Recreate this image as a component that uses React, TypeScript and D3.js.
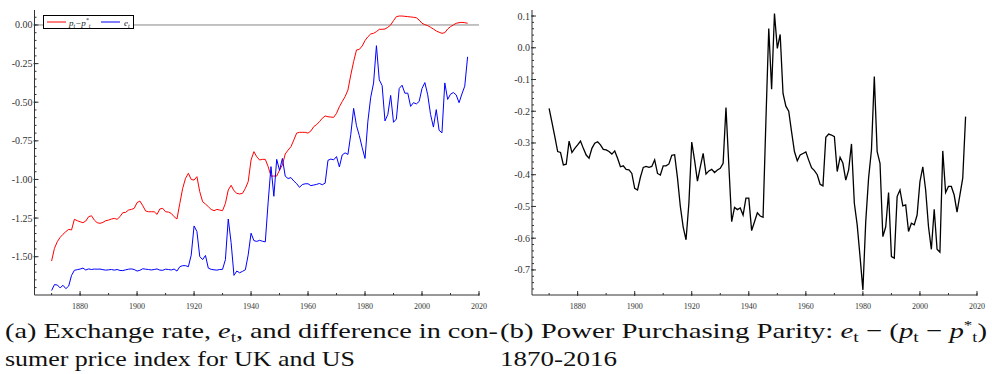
import React from 'react';
import * as d3 from 'd3';

// annual observations 1870-2016
const years = d3.range(1870, 2017);

// p_t - p*_t (red, panel a)
const priceDiff = [
  -1.528, -1.446, -1.403, -1.375, -1.355, -1.338, -1.323, -1.327, -1.258, -1.267,
  -1.274, -1.28, -1.269, -1.241, -1.235, -1.263, -1.28, -1.284, -1.278, -1.267,
  -1.263, -1.256, -1.252, -1.258, -1.241, -1.215, -1.213, -1.198, -1.194, -1.187,
  -1.15, -1.14, -1.17, -1.204, -1.209, -1.209, -1.209, -1.226, -1.191, -1.187,
  -1.209, -1.211, -1.22, -1.241, -1.256, -1.155, -1.058, -0.993, -0.96, -1.0,
  -1.004, -0.982, -1.079, -1.144, -1.159, -1.176, -1.194, -1.202, -1.194, -1.198,
  -1.202, -1.155, -1.068, -1.038, -1.073, -1.09, -1.094, -1.09, -1.058, -1.014,
  -0.874, -0.82, -0.853, -0.874, -0.87, -0.87, -0.917, -0.978, -0.978, -0.978,
  -0.939, -0.906, -0.835, -0.81, -0.788, -0.745, -0.7, -0.695, -0.695, -0.695,
  -0.7, -0.686, -0.658, -0.645, -0.626, -0.604, -0.589, -0.594, -0.596, -0.598,
  -0.572, -0.529, -0.496, -0.464, -0.421, -0.324, -0.237, -0.162, -0.158, -0.136,
  -0.101, -0.076, -0.058, -0.054, -0.043, -0.028, -0.028, -0.026, -0.015, 0.0,
  0.028, 0.054, 0.058, 0.058, 0.056, 0.054, 0.052, 0.05, 0.047, 0.032,
  0.011, 0.002, -0.004, -0.015, -0.026, -0.039, -0.047, -0.054, -0.05, -0.026,
  -0.011, 0.0, 0.011, 0.015, 0.017, 0.015, 0.011,
];

// e_t (blue, panel a)
const exchangeRate = [
  -1.719, -1.681, -1.683, -1.702, -1.685, -1.707, -1.69, -1.621, -1.588, -1.584,
  -1.58, -1.574, -1.586, -1.579, -1.583, -1.58, -1.581, -1.58, -1.584, -1.587,
  -1.585, -1.583, -1.587, -1.583, -1.589, -1.59, -1.585, -1.581, -1.579, -1.583,
  -1.593, -1.588, -1.578, -1.581, -1.583, -1.586, -1.583, -1.579, -1.587, -1.588,
  -1.581, -1.583, -1.586, -1.58, -1.593, -1.565, -1.558, -1.558, -1.565, -1.49,
  -1.301, -1.337, -1.499, -1.519, -1.492, -1.574, -1.582, -1.585, -1.587, -1.583,
  -1.582, -1.519, -1.256, -1.408, -1.621, -1.593, -1.604, -1.595, -1.585, -1.488,
  -1.348, -1.396, -1.401, -1.394, -1.4, -1.404, -1.147, -0.917, -1.109, -0.87,
  -0.941, -0.864, -0.979, -0.994, -0.988, -1.01, -1.027, -1.051, -1.033, -1.028,
  -1.028, -1.04, -1.036, -1.032, -1.026, -1.034, -1.024, -0.876, -0.868, -0.873,
  -0.852, -0.919, -0.841, -0.828, -0.838, -0.709, -0.54, -0.652, -0.716, -0.794,
  -0.864, -0.623, -0.468, -0.376, -0.134, -0.355, -0.392, -0.621, -0.579, -0.456,
  -0.63, -0.609, -0.411, -0.39, -0.442, -0.441, -0.527, -0.503, -0.511, -0.495,
  -0.411, -0.373, -0.452, -0.579, -0.661, -0.548, -0.682, -0.698, -0.375, -0.482,
  -0.448, -0.437, -0.453, -0.503, -0.447, -0.396, -0.206,
];

// e_t - (p_t - p*_t) (black, panel b)
const ppp = [
  -0.191, -0.235, -0.28, -0.327, -0.33, -0.369, -0.367, -0.294, -0.33, -0.317,
  -0.306, -0.294, -0.317, -0.338, -0.348, -0.317, -0.301, -0.296, -0.306, -0.32,
  -0.322, -0.327, -0.335, -0.325, -0.348, -0.375, -0.372, -0.383, -0.385, -0.396,
  -0.443, -0.448, -0.408, -0.377, -0.374, -0.377, -0.374, -0.353, -0.396, -0.401,
  -0.372, -0.372, -0.366, -0.339, -0.337, -0.41, -0.5, -0.565, -0.605, -0.49,
  -0.297, -0.355, -0.42, -0.375, -0.333, -0.398, -0.388, -0.383, -0.393, -0.385,
  -0.38, -0.364, -0.188, -0.37, -0.548, -0.503, -0.51, -0.505, -0.527, -0.474,
  -0.474, -0.576, -0.548, -0.52, -0.53, -0.534, -0.23, 0.061, -0.131, 0.108,
  -0.002, 0.042, -0.144, -0.184, -0.2, -0.265, -0.327, -0.356, -0.338, -0.333,
  -0.328, -0.354, -0.378, -0.387, -0.4, -0.43, -0.435, -0.282, -0.272, -0.275,
  -0.28, -0.39, -0.345, -0.364, -0.417, -0.385, -0.303, -0.49, -0.558, -0.658,
  -0.763, -0.547, -0.41, -0.322, -0.091, -0.327, -0.364, -0.595, -0.564, -0.456,
  -0.658, -0.663, -0.469, -0.448, -0.498, -0.495, -0.579, -0.553, -0.558, -0.527,
  -0.422, -0.375, -0.448, -0.564, -0.635, -0.509, -0.635, -0.644, -0.325, -0.456,
  -0.437, -0.437, -0.464, -0.518, -0.464, -0.411, -0.217,
];

const xTicks = [1880, 1900, 1920, 1940, 1960, 1980, 2000, 2020];
const yTicksA = [0, -0.25, -0.5, -0.75, -1, -1.25, -1.5];
const yTicksB = [0.1, 0, -0.1, -0.2, -0.3, -0.4, -0.5, -0.6, -0.7];

const FONT = 'Liberation Serif';
const TOP = 10;
const BOTTOM = 295;
const AXIS = '#333';

type AxesProps = {
  x: d3.ScaleLinear<number, number>;
  y: d3.ScaleLinear<number, number>;
  yTicks: number[];
  minorStep: number;
  fmt: (v: number) => string;
};

const Axes: React.FC<AxesProps> = ({ x, y, yTicks, minorStep, fmt }) => {
  const [x0, x1] = x.range();
  const [yMin, yMax] = y.domain();
  const minorY = d3.range(Math.ceil(yMin / minorStep) * minorStep, yMax, minorStep);
  const minorX = d3.range(1870, 2021, 10);
  return (
    <g>
      <line x1={x0} x2={x0} y1={TOP} y2={BOTTOM} stroke={AXIS} strokeWidth={1} />
      <line x1={x0} x2={x1} y1={BOTTOM} y2={BOTTOM} stroke={AXIS} strokeWidth={1} />
      {minorY.map((v, i) => (
        <line key={'my' + i} x1={x0} x2={x0 + 2} y1={y(v)} y2={y(v)} stroke={AXIS} />
      ))}
      {yTicks.map(v => (
        <g key={'y' + v}>
          <line x1={x0 - 1} x2={x0 + 4} y1={y(v)} y2={y(v)} stroke={AXIS} />
          <text x={x0 - 2} y={y(v)} dy="0.35em" textAnchor="end" fontSize={10} fill="#333" fontFamily={FONT}>
            {fmt(v)}
          </text>
        </g>
      ))}
      {minorX.map(v => (
        <line key={'mx' + v} x1={x(v)} x2={x(v)} y1={BOTTOM} y2={BOTTOM - 2} stroke={AXIS} />
      ))}
      {xTicks.map(v => (
        <g key={'x' + v}>
          <line x1={x(v)} x2={x(v)} y1={BOTTOM + 1} y2={BOTTOM - 4} stroke={AXIS} />
          <text x={x(v)} y={BOTTOM + 14} textAnchor="middle" fontSize={8} fill="#333" fontFamily={FONT}>
            {v}
          </text>
        </g>
      ))}
    </g>
  );
};

export default function App() {
  const xA = d3.scaleLinear().domain([1864, 2020]).range([34.5, 479]);
  const yA = d3.scaleLinear().domain([-1.748, 0.097]).range([BOTTOM, TOP]);
  const xB = d3.scaleLinear().domain([1864, 2020]).range([532, 977]);
  const yB = d3.scaleLinear().domain([-0.779, 0.119]).range([BOTTOM, TOP]);

  const lineA = (vals: number[]) =>
    d3.line<number>().x((_, i) => xA(years[i])).y(d => yA(d))(vals) || '';
  const lineB = d3.line<number>().x((_, i) => xB(years[i])).y(d => yB(d))(ppp) || '';

  const fmtA = (v: number) => (v === 0 ? '0.00' : d3.format('.2f')(v).replace('−', '-'));
  const fmtB = (v: number) => d3.format('.1f')(v).replace('−', '-');

  return (
    <div>
      <style>{'body{margin:0;background:#fff}'}</style>
      <svg width={992} height={374} style={{ display: 'block' }}>
        {/* panel a */}
        <line x1={xA(1864)} x2={xA(2020)} y1={yA(0)} y2={yA(0)} stroke="#888" strokeWidth={1} />
        <Axes x={xA} y={yA} yTicks={yTicksA} minorStep={0.05} fmt={fmtA} />
        <path d={lineA(priceDiff)} fill="none" stroke="#ff0000" strokeWidth={1} />
        <path d={lineA(exchangeRate)} fill="none" stroke="#0000ff" strokeWidth={1} />

        {/* legend */}
        <rect x={43.5} y={15.5} width={90} height={13} fill="#fff" stroke="#000" strokeWidth={1} />
        <line x1={47} x2={66} y1={22} y2={22} stroke="#ff0000" />
        <text x={69} y={25.5} fontSize={9} fontFamily={FONT} fontStyle="italic" fill="#222">
          p<tspan fontSize={6} dy={2}>t</tspan>
          <tspan dy={-2}>−p</tspan>
          <tspan fontSize={6} dy={-4}>*</tspan>
          <tspan fontSize={6} dy={6}>t</tspan>
        </text>
        <line x1={101} x2={120} y1={22} y2={22} stroke="#0000ff" />
        <text x={124} y={25.5} fontSize={9} fontFamily={FONT} fontStyle="italic" fill="#222">
          e<tspan fontSize={6} dy={2}>t</tspan>
        </text>

        {/* panel b */}
        <Axes x={xB} y={yB} yTicks={yTicksB} minorStep={0.02} fmt={fmtB} />
        <path d={lineB} fill="none" stroke="#000" strokeWidth={1.3} />

        {/* captions */}
        <g fontFamily={FONT} fontSize={22} fill="#111">
          <text x={5} y={338} textLength={493} lengthAdjust="spacingAndGlyphs">
            (a) Exchange rate, <tspan fontStyle="italic">e</tspan>
            <tspan fontSize={15} dy={4}>t</tspan>
            <tspan dy={-4}>, and difference in con-</tspan>
          </text>
          <text x={5} y={366} textLength={350} lengthAdjust="spacingAndGlyphs">
            sumer price index for UK and US
          </text>
          <text x={500} y={338} textLength={487} lengthAdjust="spacingAndGlyphs">
            (b) Power Purchasing Parity:  <tspan fontStyle="italic">e</tspan>
            <tspan fontSize={15} dy={4}>t</tspan>
            <tspan dy={-4}> − (</tspan>
            <tspan fontStyle="italic">p</tspan>
            <tspan fontSize={15} dy={4}>t</tspan>
            <tspan dy={-4}> − </tspan>
            <tspan fontStyle="italic">p</tspan>
            <tspan fontSize={13} dy={-9}>*</tspan>
            <tspan fontSize={14} dy={13}>t</tspan>
            <tspan dy={-4}>)</tspan>
          </text>
          <text x={500} y={366} textLength={117} lengthAdjust="spacingAndGlyphs">
            1870-2016
          </text>
        </g>
      </svg>
    </div>
  );
}
